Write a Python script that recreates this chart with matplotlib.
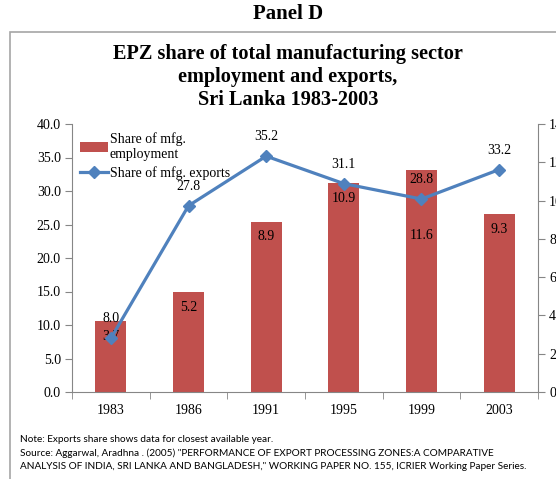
import matplotlib.pyplot as plt
import matplotlib.patches as mpatches
import numpy as np

years = ["1983", "1986", "1991", "1995", "1999", "2003"]
employment_share = [3.7, 5.2, 8.9, 10.9, 11.6, 9.3]   # right axis, bars
exports_share = [8.0, 27.8, 35.2, 31.1, 28.8, 33.2]   # left axis, line

BAR_COLOR = "#C0504D"
LINE_COLOR = "#4F81BD"
SPINE_COLOR = "#868686"
FS = 10

plt.rcParams["font.family"] = ["Liberation Serif", "DejaVu Serif"]

fig = plt.figure(figsize=(5.56, 4.79), dpi=100)

# outer chart frame (runs off the right and bottom edge, like the crop)
fig.patches.append(mpatches.Rectangle((10 / 556, -0.05), 1.0, 1 - 32 / 479 + 0.05,
                                      transform=fig.transFigure, fill=False,
                                      edgecolor="#A6A6A6", linewidth=1.2))

fig.text(288 / 556, 1 - 14 / 479, "Panel D", ha="center", va="center",
         fontsize=15, fontweight="bold")
fig.text(288 / 556, 1 - 77 / 479,
         "EPZ share of total manufacturing sector\nemployment and exports,\nSri Lanka 1983-2003",
         ha="center", va="center", fontsize=14.6, fontweight="bold", linespacing=1.2)

ax = fig.add_axes([72 / 556, 1 - 392 / 479, (538 - 72) / 556, (392 - 124) / 479])
ax2 = ax.twinx()

x = np.arange(len(years))

bars = ax2.bar(x, employment_share, width=0.4, color=BAR_COLOR, label="Share of mfg.\nemployment")
ax2.set_ylim(0, 14)
ax2.set_yticks(np.arange(0, 15, 2))
ax2.tick_params(axis="y", labelsize=FS, length=5, color=SPINE_COLOR, pad=3)

line, = ax.plot(x, exports_share, color=LINE_COLOR, linewidth=2.3, marker="D",
                markersize=6, label="Share of mfg. exports")
ax.set_zorder(ax2.get_zorder() + 1)
ax.patch.set_visible(False)
ax.set_ylim(0, 40)
ax.set_yticks(np.arange(0, 41, 5))
ax.set_yticklabels([f"{v:.1f}" for v in np.arange(0, 41, 5)])
ax.set_xlim(-0.5, len(years) - 0.5)
ax.set_xticks(x)
ax.set_xticklabels(years)
ax.set_xticks(np.arange(-0.5, len(years), 1.0), minor=True)
ax.tick_params(axis="x", which="major", length=0, labelsize=FS, pad=9)
ax.tick_params(axis="x", which="minor", length=5, color=SPINE_COLOR)
ax.tick_params(axis="y", labelsize=FS, length=5, color=SPINE_COLOR, pad=3)

for a in (ax, ax2):
    a.spines["top"].set_visible(False)
    for side in ("left", "right", "bottom"):
        a.spines[side].set_color(SPINE_COLOR)
ax2.spines["left"].set_visible(False)
ax2.spines["bottom"].set_visible(False)
ax.spines["right"].set_visible(False)

# labels for the exports line, above the points
for xi, v in zip(x, exports_share):
    ax.annotate(f"{v:.1f}", (xi, v), xytext=(0, 14), textcoords="offset points",
                ha="center", va="center", fontsize=FS)

# labels for the employment bars, inside the bar tops
for xi, v in zip(x, employment_share):
    dy = -47 if years[xi] == "1999" else -11
    ax2.annotate(f"{v:.1f}", (xi, v), xytext=(0, dy), textcoords="offset points",
                 ha="center", va="center", fontsize=FS)

ax.legend(handles=[bars, line], loc="upper left", bbox_to_anchor=(0.005, 0.99),
          frameon=False, fontsize=FS, handlelength=2.0, handletextpad=0.15,
          labelspacing=0.35, borderaxespad=0)

note = ("Note: Exports share shows data for closest available year.\n"
        "Source: Aggarwal, Aradhna . (2005) \"PERFORMANCE OF EXPORT PROCESSING ZONES:A COMPARATIVE\n"
        "ANALYSIS OF INDIA, SRI LANKA AND BANGLADESH,\" WORKING PAPER NO. 155, ICRIER Working Paper Series.")
fig.text(20 / 556, 1 - 435 / 479, note, ha="left", va="top", fontsize=7.2,
         family=["Lato", "DejaVu Sans"], linespacing=1.55)

fig.savefig("out.png", dpi=100)
